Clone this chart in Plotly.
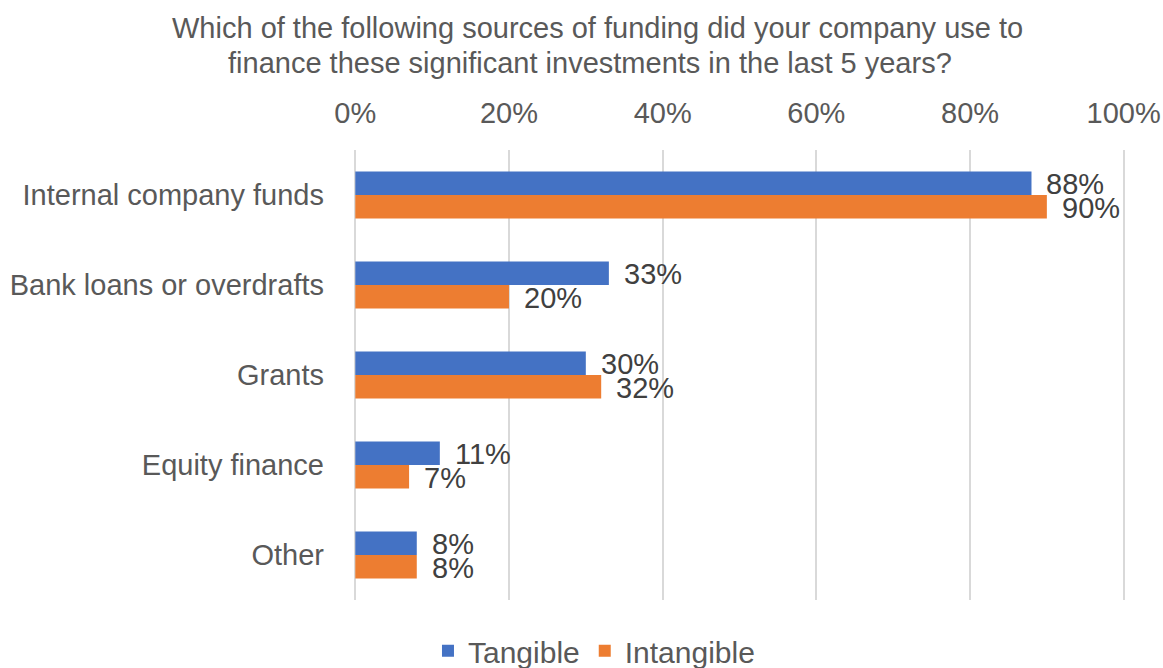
import plotly.graph_objects as go

categories = ["Internal company funds", "Bank loans or overdrafts", "Grants",
              "Equity finance", "Other"]
tangible = [88, 33, 30, 11, 8]
intangible = [90, 20, 32, 7, 8]
x_ticks = [0, 20, 40, 60, 80, 100]
title_lines = ["Which of the following sources of funding did your company use to",
               "finance these significant investments in the last 5 years?"]

FONT = "Liberation Sans, Arial, sans-serif"
GREY = "#595959"
LABEL = "#404040"
BLUE = "#4472C4"
ORANGE = "#ED7D31"

W, H = 1163, 668
L, R, T, B = 353, 37, 150, 68
PW, PH = W - L - R, H - T - B
X_PAD = 0.3  # keeps the 0% and 100% gridlines inside the plot clip


def px_x(px):
    return (px - L) / PW


def px_y(py):
    return (H - B - py) / PH


fig = go.Figure()
fig.add_trace(go.Bar(name="Tangible", y=categories, x=tangible, orientation="h",
                     marker=dict(color=BLUE, line=dict(width=0))))
fig.add_trace(go.Bar(name="Intangible", y=categories, x=intangible, orientation="h",
                     marker=dict(color=ORANGE, line=dict(width=0))))

annotations = []
# value labels just past the end of each bar
for cat, tv, iv in zip(categories, tangible, intangible):
    annotations.append(dict(x=tv, y=cat, xref="x", yref="y", text=f"{tv}%",
                            showarrow=False, xanchor="left", yanchor="middle",
                            xshift=13, yshift=11,
                            font=dict(family=FONT, size=29, color=LABEL)))
    annotations.append(dict(x=iv, y=cat, xref="x", yref="y", text=f"{iv}%",
                            showarrow=False, xanchor="left", yanchor="middle",
                            xshift=13, yshift=-13,
                            font=dict(family=FONT, size=29, color=LABEL)))

# two-line chart title
for line, cx, cy in zip(title_lines, [597.5, 590], [28, 63]):
    annotations.append(dict(x=px_x(cx), y=px_y(cy), xref="paper", yref="paper",
                            text=line, showarrow=False, xanchor="center",
                            yanchor="middle",
                            font=dict(family=FONT, size=29, color=GREY)))

fig.update_layout(
    width=W, height=H,
    paper_bgcolor="white", plot_bgcolor="white",
    barmode="group", bargap=0.48, bargroupgap=0,
    margin=dict(l=L, r=R, t=T, b=B, autoexpand=False),
    font=dict(family=FONT, color=GREY, size=29),
    xaxis=dict(side="top", range=[-X_PAD, 100 + X_PAD], tickvals=x_ticks,
               ticktext=[f"{t}%" for t in x_ticks],
               showgrid=True, gridcolor="#d9d9d9", gridwidth=1.5,
               zeroline=False, showline=False, ticks="", automargin=False,
               ticklabelstandoff=20,
               tickfont=dict(family=FONT, size=29, color=GREY)),
    yaxis=dict(autorange="reversed", showgrid=False, zeroline=False, showline=False,
               ticks="", ticklabelstandoff=28, automargin=False,
               tickfont=dict(family=FONT, size=29, color=GREY)),
    legend=dict(orientation="h", x=0.097, xanchor="left", y=-0.113, yanchor="middle",
                font=dict(family=FONT, size=30, color=GREY), traceorder="normal"),
    annotations=annotations,
)

fig.write_html("out.html")
